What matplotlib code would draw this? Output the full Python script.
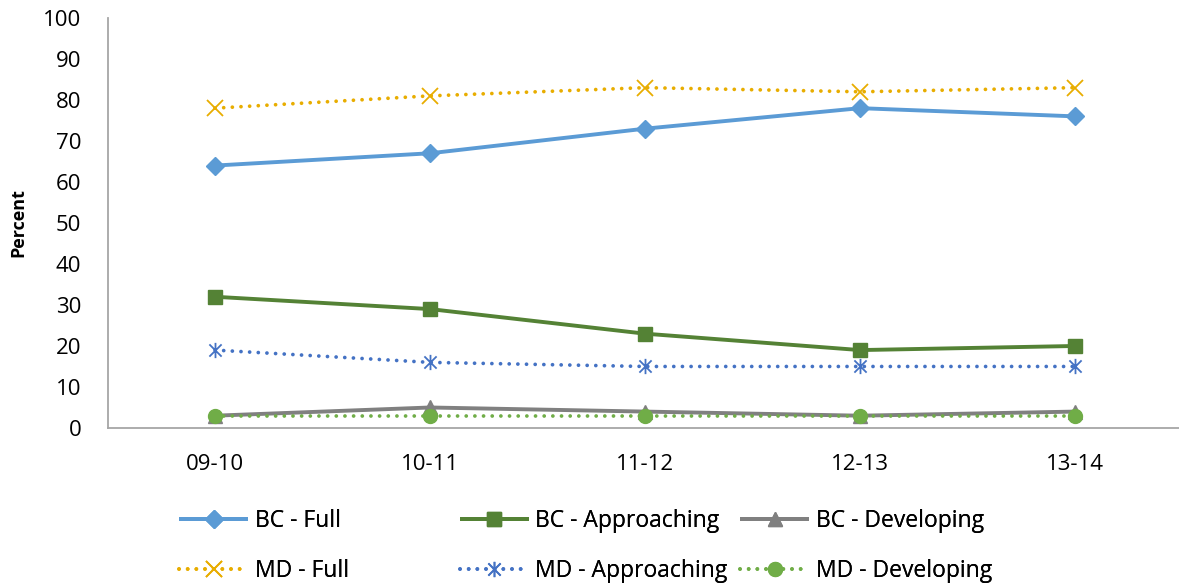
import numpy as np
import matplotlib.pyplot as plt
from matplotlib.path import Path

years = ['09-10', '10-11', '11-12', '12-13', '13-14']

bc_full = [64, 67, 73, 78, 76]
bc_approaching = [32, 29, 23, 19, 20]
bc_developing = [3, 5, 4, 3, 4]
md_full = [78, 81, 83, 82, 83]
md_approaching = [19, 16, 15, 15, 15]
md_developing = [3, 3, 3, 3, 3]

plt.rcParams['font.family'] = ['Open Sans', 'DejaVu Sans']

# star marker: an x with a vertical bar through it
star = Path([(-1, -1), (1, 1), (-1, 1), (1, -1), (0, -1.25), (0, 1.25)],
            [Path.MOVETO, Path.LINETO] * 3)

DOT = (0, (0.01, 2.3))
series = [
    # label, values, colour, marker, size, linestyle, width
    ('BC - Full', bc_full, '#5B9BD5', 'D', 9, '-', 2.8),
    ('BC - Approaching', bc_approaching, '#548235', 's', 10, '-', 2.8),
    ('BC - Developing', bc_developing, '#808080', '^', 10, '-', 2.8),
    ('MD - Full', md_full, '#E8AD00', 'x', 11, DOT, 2.7),
    ('MD - Approaching', md_approaching, '#4472C4', star, 11, DOT, 2.7),
    ('MD - Developing', md_developing, '#70AD47', 'o', 10, DOT, 2.7),
]

fig = plt.figure(figsize=(11.79, 5.85), dpi=100)
ax = fig.add_axes([0.0912, 0.2684, 0.9118, 0.7009])
x = np.arange(len(years))

handles = {}
for label, vals, color, marker, ms, ls, lw in series:
    mew = 1.3 if ls == DOT and marker != 'o' else 1
    line, = ax.plot(x, vals, color=color, marker=marker, markersize=ms,
                    linestyle=ls, linewidth=lw, markeredgewidth=mew,
                    dash_capstyle='round', solid_capstyle='butt',
                    clip_on=False, label=label)
    handles[label] = line

ax.set_xlim(-0.5, 4.5)
ax.set_ylim(0, 100)
ax.set_yticks(range(0, 101, 10))
ax.set_xticks(x)
ax.set_xticklabels(years)
ax.tick_params(axis='both', length=0, labelsize=16)
ax.tick_params(axis='y', pad=19)
ax.tick_params(axis='x', pad=19)
for side in ('top', 'right'):
    ax.spines[side].set_visible(False)
for side in ('left', 'bottom'):
    ax.spines[side].set_color('#A6A6A6')
    ax.spines[side].set_linewidth(1.3)

fig.text(0.0153, 0.62, 'Percent', rotation=90, ha='center', va='center',
         fontsize=13, fontweight='bold')

# three legend columns of different widths
groups = [
    (['BC - Full', 'MD - Full'], 0.152),
    (['BC - Approaching', 'MD - Approaching'], 0.390),
    (['BC - Developing', 'MD - Developing'], 0.628),
]
for labels, xpos in groups:
    leg = fig.legend([handles[l] for l in labels], labels, loc='center left',
                     bbox_to_anchor=(xpos, 0.067), frameon=False, fontsize=16.5,
                     handlelength=3.0, handletextpad=0.3, labelspacing=1.15,
                     borderaxespad=0, borderpad=0)
    fig.add_artist(leg)

fig.savefig('out.png', dpi=100)
